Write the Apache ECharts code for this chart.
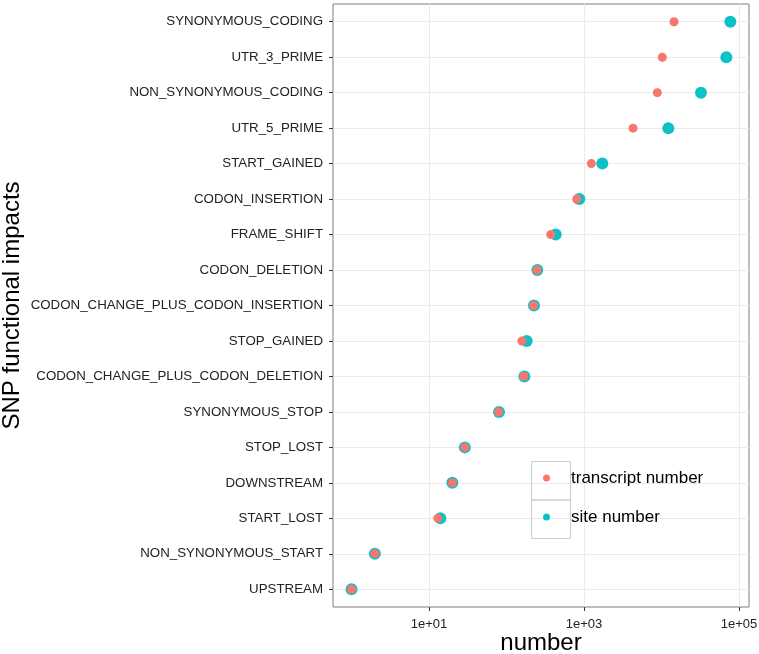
<!DOCTYPE html>
<html>
<head>
<meta charset="utf-8">
<script src="https://cdn.jsdelivr.net/npm/echarts@6/dist/echarts.min.js"></script>
<style>
  html, body { margin: 0; padding: 0; background: #fff; }
  #chart { width: 759px; height: 654px; }
</style>
</head>
<body>
<div id="chart"></div>
<script>
const categories = [
  'SYNONYMOUS_CODING', 'UTR_3_PRIME', 'NON_SYNONYMOUS_CODING', 'UTR_5_PRIME',
  'START_GAINED', 'CODON_INSERTION', 'FRAME_SHIFT', 'CODON_DELETION',
  'CODON_CHANGE_PLUS_CODON_INSERTION', 'STOP_GAINED', 'CODON_CHANGE_PLUS_CODON_DELETION',
  'SYNONYMOUS_STOP', 'STOP_LOST', 'DOWNSTREAM', 'START_LOST', 'NON_SYNONYMOUS_START', 'UPSTREAM'
];
const transcriptNumber = [14500, 10250, 8830, 4290, 1244, 805, 372, 248, 224, 158, 168, 79, 29, 20, 13, 2, 1];
const siteNumber = [77300, 68700, 32300, 12250, 1722, 870, 431, 250, 226, 182, 170, 80, 29, 20, 14, 2, 1];
const xTickLabels = [10, 1000, 100000];

const FONT = "'Liberation Sans', Arial, Helvetica, sans-serif";
const chart = echarts.init(document.getElementById('chart'), null, { renderer: 'canvas' });

function fmt(v) {
  const e = Math.round(Math.log10(v));
  if (Math.abs(Math.log10(v) - e) > 1e-6) return '';
  if (xTickLabels.indexOf(Math.pow(10, e)) < 0) return '';
  return '1e' + (e < 0 ? '-' : '+') + String(Math.abs(e)).padStart(2, '0');
}

const option = {
  backgroundColor: '#ffffff',
  animation: false,
  textStyle: { fontFamily: FONT },
  grid: {
    left: 333, right: 10, top: 4, bottom: 47,
    containLabel: false,
    outerBoundsMode: 'none',
    show: true, borderColor: '#7f7f7f', borderWidth: 1, backgroundColor: '#ffffff'
  },
  xAxis: {
    type: 'log',
    logBase: 10,
    min: Math.pow(10, -0.239),
    max: Math.pow(10, 5.129),
    name: 'number',
    nameLocation: 'middle',
    nameGap: 24,
    nameMoveOverlap: false,
    nameTextStyle: { fontSize: 24, color: '#000', fontFamily: FONT },
    axisLine: { show: false },
    axisTick: { show: true, length: 4, lineStyle: { color: '#333' }, customValues: xTickLabels },
    axisLabel: { fontSize: 13, color: '#222', margin: 11, fontFamily: FONT, formatter: fmt,
                 showMinLabel: false, showMaxLabel: false },
    splitLine: { show: true, lineStyle: { color: '#ebebeb', width: 1 } },
    minorTick: { show: false },
    minorSplitLine: { show: false }
  },
  yAxis: {
    type: 'category',
    data: categories,
    inverse: true,
    boundaryGap: true,
    name: 'SNP functional impacts',
    nameLocation: 'middle',
    nameRotate: 90,
    nameGap: 309,
    nameMoveOverlap: false,
    nameTextStyle: { fontSize: 24, color: '#000', fontFamily: FONT },
    axisLine: { show: false },
    axisTick: { show: true, alignWithLabel: true, length: 4, lineStyle: { color: '#333' } },
    axisLabel: { fontSize: 13.3, color: '#222', margin: 10, fontFamily: FONT },
    splitLine: { show: true, alignWithLabel: true, lineStyle: { color: '#ebebeb', width: 1 } }
  },
  legend: {
    data: ['transcript number', 'site number'],
    orient: 'vertical',
    left: 543,
    top: 468,
    padding: 0,
    itemWidth: 7,
    itemHeight: 7,
    itemGap: 19,
    icon: 'circle',
    textStyle: { fontSize: 17, color: '#000', lineHeight: 20, fontFamily: FONT, padding: [0, 0, 0, 16] }
  },
  graphic: [
    { type: 'rect', left: 529, top: 459, shape: { width: 39, height: 38.5 },
      style: { fill: 'none', stroke: '#cccccc', lineWidth: 1 }, z: 100 },
    { type: 'rect', left: 529, top: 497.5, shape: { width: 39, height: 38.5 },
      style: { fill: 'none', stroke: '#cccccc', lineWidth: 1 }, z: 100 }
  ],
  series: [
    {
      name: 'site number',
      type: 'scatter',
      data: siteNumber.map((v, i) => [v, categories[i]]),
      symbolSize: 12,
      itemStyle: { color: '#00BFC4', opacity: 0.95 },
      z: 2
    },
    {
      name: 'transcript number',
      type: 'scatter',
      data: transcriptNumber.map((v, i) => [v, categories[i]]),
      symbolSize: 9,
      itemStyle: { color: '#F8766D', opacity: 1 },
      z: 3
    }
  ]
};
chart.setOption(option);
</script>
</body>
</html>
